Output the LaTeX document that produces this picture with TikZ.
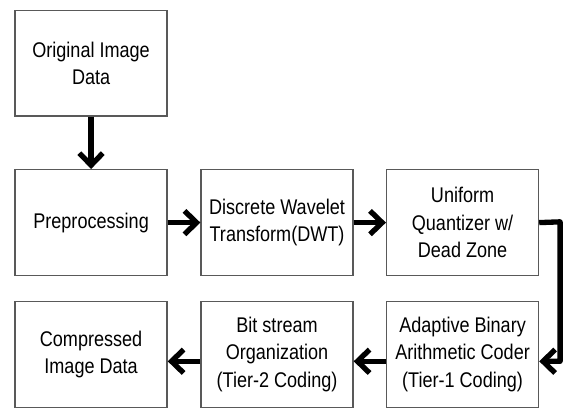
\documentclass[tikz,border=0pt]{standalone}
\usepackage{fontspec}
\setmainfont[FakeStretch=0.85]{Liberation Sans}
\usetikzlibrary{arrows.meta}

\begin{document}
\begin{tikzpicture}[
    block/.style={rectangle, draw=black!65, line width=1pt, fill=white,
        minimum width=4.02cm, minimum height=2.8cm, align=center,
        font=\fontsize{16}{20.5}\selectfont},
    arrow/.style={line width=4pt, black, line join=round,
        -{Straight Barb[length=3.2mm,width=6.2mm]}}
]
\useasboundingbox (0,0) rectangle (14.95,-10.795);

% Input
\node[block] (orig) at (2.41,-1.67) {Original Image\\Data};

% Upper row
\node[block] (prep) at (2.41,-5.89) {Preprocessing};
\node[block] (dwt) at (7.33,-5.89) {Discrete Wavelet\\Transform(DWT)};
\node[block] (quant) at (12.24,-5.89) {Uniform\\Quantizer w/\\Dead Zone};

% Lower row
\node[block] (abac) at (12.24,-9.38) {Adaptive Binary\\Arithmetic Coder\\(Tier-1 Coding)};
\node[block] (bits) at (7.33,-9.38) {Bit stream\\Organization\\(Tier-2 Coding)};
\node[block] (comp) at (2.41,-9.38) {Compressed\\Image Data};

% Data flow
\draw[arrow] (orig) -- (prep);
\draw[arrow] (prep) -- (dwt);
\draw[arrow] (dwt) -- (quant);
\coordinate (turn) at (14.82,-5.87);
\draw[arrow] (quant.east) -- (turn) |- ([yshift=-0.18cm]abac.east);
\draw[arrow] ([yshift=-0.18cm]abac.west) -- ([yshift=-0.18cm]bits.east);
\draw[arrow] ([yshift=-0.18cm]bits.west) -- ([yshift=-0.18cm]comp.east);

\end{tikzpicture}
\end{document}
